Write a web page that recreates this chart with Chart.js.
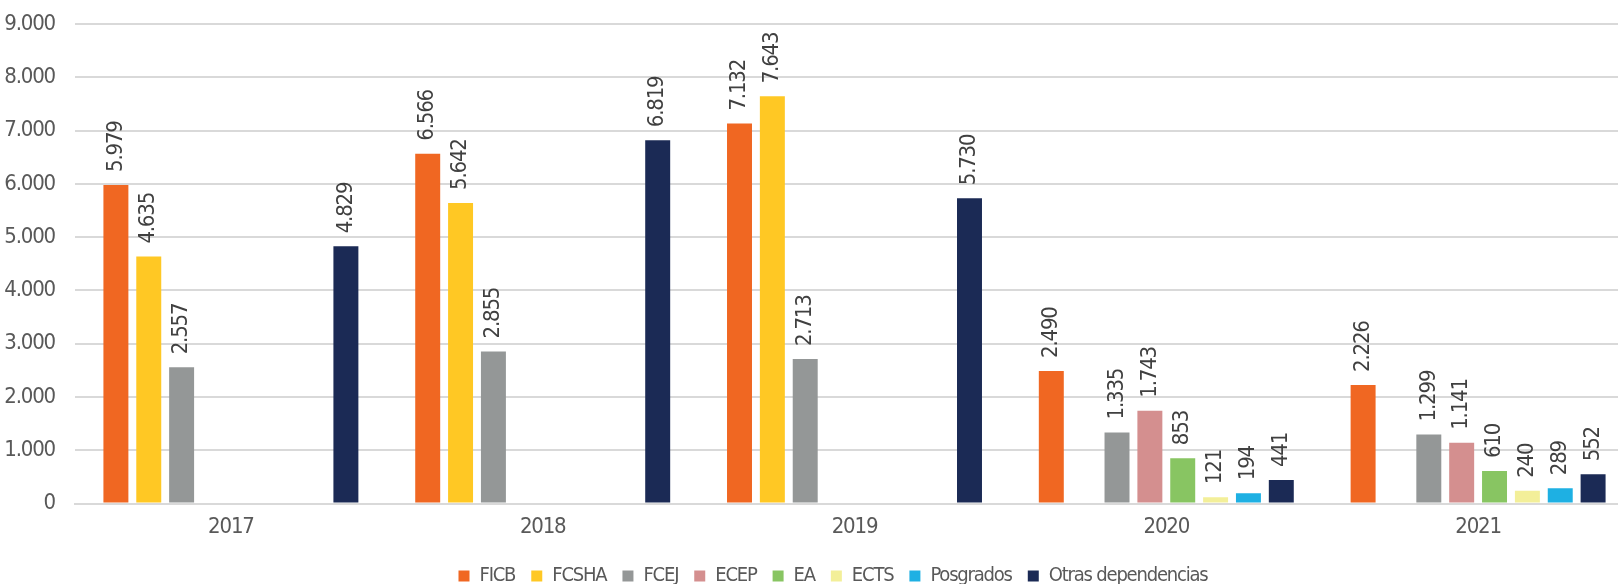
<!DOCTYPE html>
<html>
<head>
<meta charset="utf-8">
<script src="https://cdn.jsdelivr.net/npm/chart.js@4/dist/chart.umd.min.js"></script>
<style>
  html, body { margin: 0; padding: 0; background: #fff; overflow: hidden; }
  #wrap { width: 1634px; height: 584px; }
</style>
</head>
<body>
<div id="wrap"><canvas id="chart" width="1634" height="584"></canvas></div>
<script>
// años
const years = ['2017', '2018', '2019', '2020', '2021'];

// series (null = sin dato)
const ficb      = [5979, 6566, 7132, 2490, 2226];
const fcsha     = [4635, 5642, 7643, null, null];
const fcej      = [2557, 2855, 2713, 1335, 1299];
const ecep      = [null, null, null, 1743, 1141];
const ea        = [null, null, null, 853, 610];
const ects      = [null, null, null, 121, 240];
const posgrados = [null, null, null, 194, 289];
const otras     = [4829, 6819, 5730, 441, 552];

const seriesNames  = ['FICB', 'FCSHA', 'FCEJ', 'ECEP', 'EA', 'ECTS', 'Posgrados', 'Otras dependencias'];
const seriesData   = [ficb, fcsha, fcej, ecep, ea, ects, posgrados, otras];
const seriesColors = ['#F06722', '#FFC824', '#949797', '#D48F8F', '#88C562', '#F3EF99', '#1EB0E3', '#1B2A55'];

const FONT = "'Liberation Sans Narrow', 'DejaVu Sans Condensed', 'Roboto Condensed', Arial, sans-serif";
const FSIZE = 22;

function miles(v) {
    return String(Math.round(v)).replace(/\B(?=(\d{3})+(?!\d))/g, '.');
}

// letra más estrecha (la original es una fuente condensada)
const narrowText = {
    id: 'narrowText',
    beforeLayout(chart) { chart.ctx.letterSpacing = '-1.2px'; },
    beforeDraw(chart) { chart.ctx.letterSpacing = '-1.2px'; }
};

// etiquetas giradas sobre cada barra
const valueLabels = {
    id: 'valueLabels',
    afterDatasetsDraw(chart) {
        const ctx = chart.ctx;
        ctx.save();
        ctx.font = FSIZE + 'px ' + FONT;
        ctx.fillStyle = '#404040';
        ctx.textAlign = 'left';
        ctx.textBaseline = 'middle';
        chart.data.datasets.forEach((ds, i) => {
            const meta = chart.getDatasetMeta(i);
            meta.data.forEach((bar, j) => {
                const v = ds.data[j];
                if (v === null || v === undefined) return;
                ctx.save();
                ctx.translate(bar.x, bar.y - 13);
                ctx.rotate(-Math.PI / 2);
                ctx.fillText(miles(v), 0, 0);
                ctx.restore();
            });
        });
        ctx.restore();
    }
};

// mover la leyenda como en el original
const legendShift = {
    id: 'legendShift',
    afterLayout(chart) {
        const lg = chart.legend;
        if (!lg) return;
        lg.left += 16; lg.right += 16;
    }
};

new Chart(document.getElementById('chart'), {
    type: 'bar',
    data: {
        labels: years,
        datasets: seriesNames.map((name, i) => ({
            label: name,
            data: seriesData[i],
            backgroundColor: seriesColors[i],
            borderWidth: 0,
            categoryPercentage: 0.843,
            barPercentage: 0.76
        }))
    },
    options: {
        responsive: false,
        animation: false,
        devicePixelRatio: 1,
        layout: { padding: { top: 24, left: 0, right: 0, bottom: -12 } },
        scales: {
            x: {
                grid: { display: false, drawTicks: false },
                border: { display: true, color: '#d9d9d9', width: 2 },
                ticks: { color: '#595959', font: { family: FONT, size: FSIZE }, padding: 10 }
            },
            y: {
                min: 0,
                max: 9000,
                afterFit(scale) {
                    scale.width = 75;
                    scale.paddingTop = 12;
                    scale.paddingBottom = 12;
                },
                grid: { color: '#d9d9d9', lineWidth: 2, drawTicks: false },
                border: { display: false },
                ticks: {
                    stepSize: 1000,
                    color: '#595959',
                    font: { family: FONT, size: FSIZE },
                    padding: 20,
                    callback: v => miles(v)
                }
            }
        },
        plugins: {
            legend: {
                position: 'bottom',
                labels: {
                    boxWidth: 11,
                    boxHeight: 11,
                    padding: 16,
                    color: '#595959',
                    font: { family: FONT, size: 20 }
                }
            },
            tooltip: { enabled: false }
        }
    },
    plugins: [narrowText, valueLabels, legendShift]
});
</script>
</body>
</html>
